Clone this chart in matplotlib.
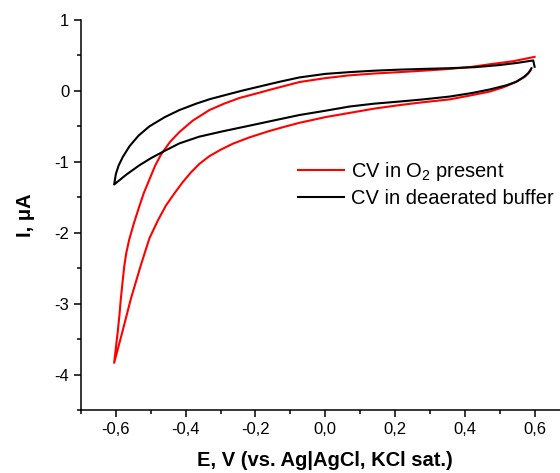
import numpy as np
import matplotlib
matplotlib.use("Agg")
import matplotlib.pyplot as plt
from matplotlib.ticker import MultipleLocator, FuncFormatter

plt.rcParams["font.family"] = ["Liberation Sans", "DejaVu Sans"]
plt.rcParams["mathtext.fontset"] = "custom"
plt.rcParams["mathtext.rm"] = "Liberation Sans"

# CV with O2 present: cathodic sweep (0.6 -> -0.6) then anodic sweep back
e_o2 = [0.587, 0.58, 0.572, 0.555, 0.539, 0.51, 0.471, 0.42, 0.356, 0.28,
        0.213, 0.14, 0.07, 0.0, -0.074, -0.12, -0.16, -0.217, -0.265, -0.30,
        -0.332, -0.361, -0.385, -0.409, -0.433, -0.457, -0.48, -0.504, -0.528,
        -0.557, -0.581, -0.605,
        -0.600, -0.595, -0.59, -0.586, -0.581, -0.576, -0.570, -0.562, -0.548,
        -0.533, -0.52, -0.504, -0.488, -0.471, -0.445, -0.418, -0.38, -0.332,
        -0.29, -0.246, -0.20, -0.16, -0.074, 0.0, 0.07, 0.14, 0.213, 0.28,
        0.356, 0.42, 0.471, 0.54, 0.6]
i_o2 = [0.29, 0.24, 0.20, 0.15, 0.11, 0.05, -0.01, -0.06, -0.12, -0.16,
        -0.20, -0.25, -0.31, -0.37, -0.45, -0.51, -0.565, -0.655, -0.745, -0.83,
        -0.92, -1.03, -1.15, -1.29, -1.45, -1.62, -1.83, -2.08, -2.45,
        -2.93, -3.39, -3.835,
        -3.62, -3.41, -3.17, -2.94, -2.70, -2.47, -2.28, -2.10, -1.86,
        -1.63, -1.44, -1.25, -1.06, -0.90, -0.72, -0.58, -0.42, -0.27,
        -0.18, -0.10, -0.04, 0.014, 0.125, 0.18, 0.22, 0.245, 0.265, 0.285,
        0.31, 0.34, 0.375, 0.42, 0.48]

# CV in deaerated buffer
e_buf = [0.591, 0.587, 0.582, 0.57, 0.548, 0.52, 0.471, 0.42, 0.356, 0.28,
         0.213, 0.14, 0.07, 0.0, -0.074, -0.16, -0.217, -0.294, -0.361,
         -0.418, -0.466, -0.50, -0.533, -0.57, -0.605,
         -0.600, -0.592, -0.580, -0.561, -0.535, -0.504, -0.46, -0.418, -0.37,
         -0.33, -0.28, -0.237, -0.19, -0.13, -0.074, 0.0, 0.07, 0.14, 0.213,
         0.28, 0.356, 0.43, 0.50, 0.55, 0.596, 0.6]
i_buf = [0.32, 0.28, 0.25, 0.20, 0.13, 0.08, 0.02, -0.03, -0.08, -0.12,
         -0.15, -0.18, -0.22, -0.28, -0.34, -0.43, -0.49, -0.57, -0.645,
         -0.74, -0.86, -0.95, -1.05, -1.18, -1.32,
         -1.17, -1.05, -0.93, -0.78, -0.63, -0.50, -0.37, -0.27, -0.18,
         -0.115, -0.05, 0.005, 0.06, 0.13, 0.19, 0.24, 0.265, 0.285, 0.30,
         0.31, 0.32, 0.335, 0.365, 0.395, 0.43, 0.34]

fig = plt.figure(figsize=(5.6, 4.73), dpi=100)
ax = fig.add_axes([81 / 560, 63 / 473, 488.5 / 560, 390 / 473])

ax.plot(e_o2, i_o2, color="#ff0000", lw=1.5, label="CV in O$_2$ present")
ax.plot(e_buf, i_buf, color="black", lw=1.5, label="CV in deaerated buffer")

ax.set_xlim(-0.7, 0.7)
ax.set_ylim(-4.5, 1)
ax.xaxis.set_major_locator(MultipleLocator(0.2))
ax.xaxis.set_minor_locator(MultipleLocator(0.1))
ax.yaxis.set_major_locator(MultipleLocator(1))
ax.yaxis.set_minor_locator(MultipleLocator(0.5))
ax.xaxis.set_major_formatter(FuncFormatter(lambda v, p: f"{v:.1f}".replace(".", ",").replace("-0,0", "0,0")))
ax.yaxis.set_major_formatter(FuncFormatter(lambda v, p: f"{v:.0f}"))

for side in ["top", "right"]:
    ax.spines[side].set_visible(False)
for side in ["left", "bottom"]:
    ax.spines[side].set_linewidth(1.1)
ax.tick_params(which="major", direction="out", length=5, width=1.1, labelsize=12)
ax.tick_params(which="minor", direction="out", length=3, width=1.1)

ax.set_xlabel("E, V (vs. Ag|AgCl, KCl sat.)", fontsize=14.5, fontweight="bold", labelpad=10)
ax.set_ylabel("I, μA", fontsize=14.5, fontweight="bold", labelpad=14)

ax.legend(loc="center left", bbox_to_anchor=(0.444, 0.579), frameon=False,
          fontsize=14.5, handlelength=2.3, handletextpad=0.35, borderpad=0,
          borderaxespad=0, labelspacing=0.3)

fig.savefig("out.png", dpi=100)
